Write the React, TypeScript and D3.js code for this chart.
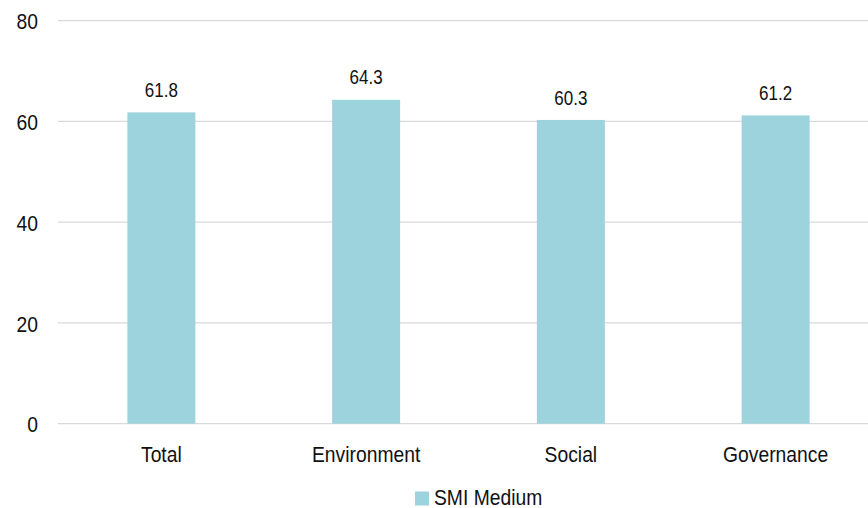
import React from 'react'
import * as d3 from 'd3'

const categories = ['Total', 'Environment', 'Social', 'Governance']
const smiMedium = [61.8, 64.3, 60.3, 61.2]
const yTicks = [0, 20, 40, 60, 80]
const seriesName = 'SMI Medium'

const width = 868
const height = 508
const barColor = '#9DD3DC'
const gridColor = '#D9D9D9'
const textColor = '#111111'
const font = '"Liberation Sans", Arial, sans-serif'
const stretch = 1.15

const App: React.FC = () => {
  const x = d3
    .scaleBand<string>()
    .domain(categories)
    .range([59, 878])
    .paddingInner(0.668)
    .paddingOuter(0.334)

  const y = d3.scaleLinear().domain([0, 80]).range([423.7, 20.7])

  const data = categories.map((c, i) => ({ cat: c, value: smiMedium[i] }))

  return (
    <div style={{ position: 'absolute', left: 0, top: 0 }}>
      <svg width={width} height={height} style={{ display: 'block', background: '#fff' }}>
        {/* gridlines */}
        {yTicks.map((t) => (
          <line
            key={`g${t}`}
            x1={58}
            x2={width}
            y1={y(t)}
            y2={y(t)}
            stroke={gridColor}
            strokeWidth={1.2}
          />
        ))}

        {/* y tick labels */}
        {yTicks.map((t) => (
          <text
            key={`t${t}`}
            transform={`translate(38,${y(t) + 8.6}) scale(1,${stretch})`}
            textAnchor="end"
            fontFamily={font}
            fontSize={19.3}
            fill={textColor}
          >
            {t}
          </text>
        ))}

        {/* bars */}
        {data.map((d) => (
          <rect
            key={d.cat}
            x={x(d.cat) ?? 0}
            y={y(d.value)}
            width={x.bandwidth()}
            height={y(0) - y(d.value)}
            fill={barColor}
          />
        ))}

        {/* value labels */}
        {data.map((d) => (
          <text
            key={`v${d.cat}`}
            transform={`translate(${(x(d.cat) ?? 0) + x.bandwidth() / 2},${y(d.value) - 15.3}) scale(1,${stretch})`}
            textAnchor="middle"
            fontFamily={font}
            fontSize={17}
            fill={textColor}
          >
            {d.value.toFixed(1)}
          </text>
        ))}

        {/* category labels */}
        {categories.map((c) => (
          <text
            key={`c${c}`}
            transform={`translate(${(x(c) ?? 0) + x.bandwidth() / 2},461.7) scale(1,${stretch})`}
            textAnchor="middle"
            fontFamily={font}
            fontSize={19.3}
            fill={textColor}
          >
            {c}
          </text>
        ))}

        {/* legend */}
        <g>
          <rect x={415} y={491.5} width={14} height={14} fill={barColor} />
          <text
            transform={`translate(434,504.5) scale(1,${stretch})`}
            fontFamily={font}
            fontSize={19.3}
            fill={textColor}
          >
            {seriesName}
          </text>
        </g>
      </svg>
    </div>
  )
}

export default App
